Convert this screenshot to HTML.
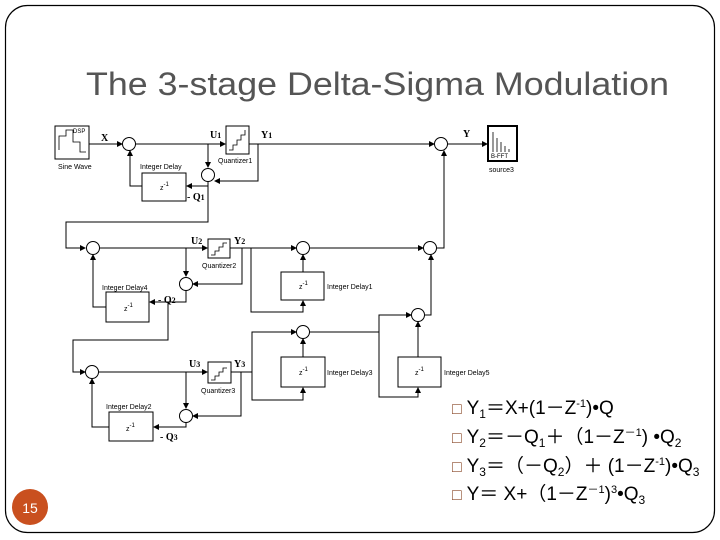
<!DOCTYPE html>
<html><head><meta charset="utf-8"><style>
html,body{margin:0;padding:0;background:#fff;}
svg{display:block;}
</style></head><body>
<svg width="720" height="540" viewBox="0 0 720 540" xmlns="http://www.w3.org/2000/svg" font-family="Liberation Sans, sans-serif">
<defs>
<marker id="a" markerWidth="6" markerHeight="6" refX="5" refY="3" orient="auto" markerUnits="userSpaceOnUse"><path d="M0,0 L6,3 L0,6 Z" fill="#000"/></marker>
</defs>
<rect x="5.5" y="5.5" width="709" height="527" rx="22" fill="none" stroke="#000" stroke-width="1.2"/>
<text x="86" y="95" font-size="32" fill="#555" textLength="583" lengthAdjust="spacingAndGlyphs">The 3-stage Delta-Sigma Modulation</text>
<circle cx="30" cy="507" r="18" fill="#c9501f"/>
<text x="30" y="513" font-size="14" fill="#fff" text-anchor="middle">15</text>

<g fill="none" stroke="#000" stroke-width="1">
<!-- row 1 -->
<rect x="55" y="126" width="34" height="33"/>
<path d="M59,150 V136 H66 V130 H73 V142 H80 V152 H86" stroke-width="0.8"/>
<line x1="89" y1="144" x2="122" y2="144" marker-end="url(#a)"/>
<circle cx="129" cy="144" r="6.5"/>
<line x1="135.5" y1="144" x2="225" y2="144" marker-end="url(#a)"/>
<rect x="226" y="126" width="23" height="28"/>
<path d="M229,150 h4 v-5 h4 v-5 h4 v-5 h4 v-5" stroke-width="0.8"/>
<line x1="249" y1="144" x2="434" y2="144" marker-end="url(#a)"/>
<circle cx="441" cy="144" r="6.5"/>
<line x1="447.5" y1="144" x2="487" y2="144" marker-end="url(#a)"/>
<rect x="488" y="126" width="29" height="35" stroke-width="2"/>
<path d="M493,152 V132 M497,152 V138 M501,152 V142 M505,152 V146 M509,152 V149" stroke-width="0.8"/>
<line x1="208" y1="144" x2="208" y2="167" marker-end="url(#a)"/>
<circle cx="208" cy="175" r="6.5"/>
<path d="M258,144 V181 H215" marker-end="url(#a)"/>
<path d="M208,181.5 V186 H187" marker-end="url(#a)"/>
<rect x="142" y="173" width="44" height="28"/>
<path d="M142,186 H130 V151" marker-end="url(#a)"/>
<path d="M208,186 V222 H66 V248 H85" marker-end="url(#a)"/>
<path d="M437,248 H444 V151" marker-end="url(#a)"/>
<!-- row 2 -->
<circle cx="93" cy="248" r="6.5"/>
<line x1="99.5" y1="248" x2="207" y2="248" marker-end="url(#a)"/>
<rect x="208" y="239" width="22" height="19"/>
<path d="M211,255 h4 v-4 h4 v-4 h4 v-4 h4" stroke-width="0.8"/>
<line x1="230" y1="248" x2="296" y2="248" marker-end="url(#a)"/>
<circle cx="303" cy="248" r="6.5"/>
<line x1="309.5" y1="248" x2="423" y2="248" marker-end="url(#a)"/>
<circle cx="430" cy="248" r="6.5"/>
<line x1="186" y1="248" x2="186" y2="276" marker-end="url(#a)"/>
<circle cx="186" cy="284" r="6.5"/>
<path d="M242,248 V284 H193" marker-end="url(#a)"/>
<path d="M251,248 V312 H303 V301" marker-end="url(#a)"/>
<rect x="281" y="272" width="43" height="28"/>
<line x1="303" y1="272" x2="303" y2="255" marker-end="url(#a)"/>
<path d="M186,290.5 V302 H150" marker-end="url(#a)"/>
<rect x="106" y="292" width="43" height="30"/>
<path d="M106,307 H93 V255" marker-end="url(#a)"/>
<path d="M168,302 V340 H73 V372 H85" marker-end="url(#a)"/>
<path d="M425,315 H431 V255" marker-end="url(#a)"/>
<!-- row 3 -->
<circle cx="92" cy="372" r="6.5"/>
<line x1="98.5" y1="372" x2="207" y2="372" marker-end="url(#a)"/>
<rect x="208" y="362" width="23" height="21"/>
<path d="M211,380 h4 v-4 h4 v-4 h4 v-4 h4" stroke-width="0.8"/>
<line x1="231" y1="372" x2="252" y2="372"/>
<line x1="186" y1="372" x2="186" y2="408" marker-end="url(#a)"/>
<circle cx="186" cy="416" r="6.5"/>
<path d="M241,372 V416 H193" marker-end="url(#a)"/>
<path d="M252,372 V332 H296" marker-end="url(#a)"/>
<circle cx="303" cy="332" r="6.5"/>
<path d="M252,372 V400 H303 V388" marker-end="url(#a)"/>
<rect x="281" y="357" width="44" height="30"/>
<line x1="303" y1="357" x2="303" y2="339" marker-end="url(#a)"/>
<path d="M309.5,332 H379 V315 H411" marker-end="url(#a)"/>
<circle cx="418" cy="315" r="6.5"/>
<path d="M379,332 V397 H418 V388" marker-end="url(#a)"/>
<rect x="398" y="357" width="43" height="30"/>
<line x1="418" y1="357" x2="418" y2="322" marker-end="url(#a)"/>
<path d="M186,422.5 V427 H154" marker-end="url(#a)"/>
<rect x="109" y="412" width="44" height="29"/>
<path d="M109,427 H92 V379" marker-end="url(#a)"/>
</g>

<g font-size="7" fill="#000">
<text x="58" y="169">Sine Wave</text>
<text x="73" y="133" font-size="6">DSP</text>
<text x="140" y="169">Integer Delay</text>
<text x="218" y="163">Quantizer1</text>
<text x="491" y="158" font-size="6">B-FFT</text>
<text x="489" y="172">source3</text>
<text x="202" y="268">Quantizer2</text>
<text x="102" y="290">Integer Delay4</text>
<text x="327" y="289">Integer Delay1</text>
<text x="201" y="393">Quantizer3</text>
<text x="106" y="409">Integer Delay2</text>
<text x="327" y="375">Integer Delay3</text>
<text x="444" y="375">Integer Delay5</text>
<text x="160" y="190">z<tspan dy="-4" font-size="6">-1</tspan></text>
<text x="124" y="311">z<tspan dy="-4" font-size="6">-1</tspan></text>
<text x="299" y="289">z<tspan dy="-4" font-size="6">-1</tspan></text>
<text x="126" y="431">z<tspan dy="-4" font-size="6">-1</tspan></text>
<text x="299" y="375">z<tspan dy="-4" font-size="6">-1</tspan></text>
<text x="415" y="375">z<tspan dy="-4" font-size="6">-1</tspan></text>
</g>
<g font-size="10" font-weight="bold" font-family="Liberation Serif, serif" fill="#000">
<text x="101" y="141">X</text>
<text x="210" y="138">U<tspan font-size="8">1</tspan></text>
<text x="261" y="138">Y<tspan font-size="8">1</tspan></text>
<text x="463" y="137">Y</text>
<text x="187" y="200">- Q<tspan font-size="8">1</tspan></text>
<text x="191" y="244">U<tspan font-size="8">2</tspan></text>
<text x="234" y="244">Y<tspan font-size="8">2</tspan></text>
<text x="158" y="303">- Q<tspan font-size="8">2</tspan></text>
<text x="189" y="367">U<tspan font-size="8">3</tspan></text>
<text x="234" y="367">Y<tspan font-size="8">3</tspan></text>
<text x="160" y="440">- Q<tspan font-size="8">3</tspan></text>
</g>

<g font-size="19" fill="#000" font-family="Liberation Sans, 'Noto Sans CJK SC', sans-serif">
<text x="452" y="414"><tspan fill="#8a4a2a" font-size="16">□</tspan> Y<tspan font-size="12" dy="4">1</tspan><tspan dy="-4">＝X+(1－Z</tspan><tspan font-size="11" dy="-7">-1</tspan><tspan dy="7">)•Q</tspan></text>
<text x="452" y="443"><tspan fill="#8a4a2a" font-size="16">□</tspan> Y<tspan font-size="12" dy="4">2</tspan><tspan dy="-4">＝－Q</tspan><tspan font-size="12" dy="4">1</tspan><tspan dy="-4">＋（1－Z</tspan><tspan font-size="11" dy="-7">－1</tspan><tspan dy="7">) •Q</tspan><tspan font-size="12" dy="4">2</tspan></text>
<text x="452" y="472"><tspan fill="#8a4a2a" font-size="16">□</tspan> Y<tspan font-size="12" dy="4">3</tspan><tspan dy="-4">＝（－Q</tspan><tspan font-size="12" dy="4">2</tspan><tspan dy="-4">）＋ (1－Z</tspan><tspan font-size="11" dy="-7">-1</tspan><tspan dy="7">)•Q</tspan><tspan font-size="12" dy="4">3</tspan></text>
<text x="452" y="500"><tspan fill="#8a4a2a" font-size="16">□</tspan> Y＝ X+（1－Z<tspan font-size="11" dy="-7">－1</tspan><tspan dy="7">)</tspan><tspan font-size="11" dy="-7">3</tspan><tspan dy="7">•Q</tspan><tspan font-size="12" dy="4">3</tspan></text>
</g>
</svg>
</body></html>
